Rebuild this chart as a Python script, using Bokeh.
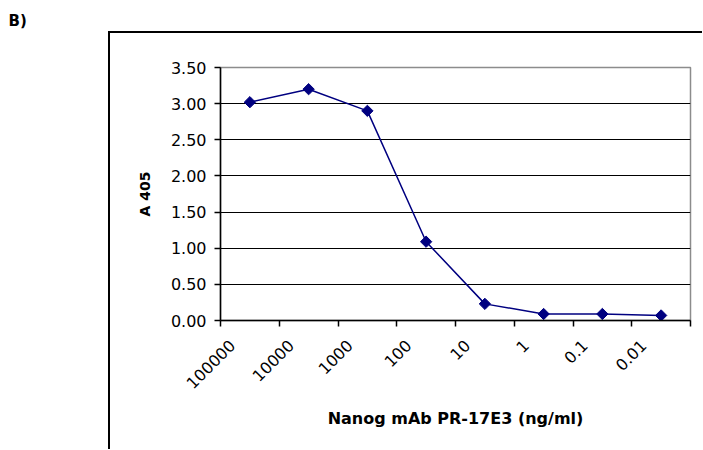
import math
from bokeh.plotting import figure
from bokeh.models import Range1d, FixedTicker, ColumnDataSource, Title
from bokeh.embed import file_html
from bokeh.resources import INLINE

# ---- data ----
concentrations = ["100000", "10000", "1000", "100", "10", "1", "0.1", "0.01"]
a405 = [3.02, 3.20, 2.90, 1.09, 0.23, 0.09, 0.09, 0.07]
y_ticks = [0.0, 0.5, 1.0, 1.5, 2.0, 2.5, 3.0, 3.5]
y_tick_labels = ["0.00", "0.50", "1.00", "1.50", "2.00", "2.50", "3.00", "3.50"]
panel_label = "B)"
x_title = "Nanog mAb PR-17E3 (ng/ml)"
y_title = "A 405"

n = len(concentrations)
x_pos = [i + 0.5 for i in range(n)]  # category centres
source = ColumnDataSource(dict(x=x_pos, y=a405, conc=concentrations))

FONT = "DejaVu Sans"
NAVY = "#000080"

# layout (pixels on the canvas)
W, H = 702, 449
F_LEFT, F_RIGHT, F_TOP, F_BOTTOM = 220, 690, 67, 320
BOX_LEFT, BOX_TOP = 108, 31  # outer chart frame (runs past the page edges)

p = figure(width=W, height=H, output_backend="svg", toolbar_location=None,
           title=None,
           x_range=Range1d(0, n), y_range=Range1d(y_ticks[0], y_ticks[-1]),
           min_border_left=F_LEFT, min_border_right=W - F_RIGHT,
           min_border_top=F_TOP, min_border_bottom=H - F_BOTTOM,
           background_fill_color="white", border_fill_color=None,
           outline_line_color="#8c8c8c", outline_line_width=1.5)

# outer chart frame: only its top and left edges fall inside the page
p.styles = {
    "background": (
        f"linear-gradient(#000, #000) {BOX_LEFT}px {BOX_TOP}px / 2px {H}px no-repeat, "
        f"linear-gradient(#000, #000) {BOX_LEFT}px {BOX_TOP}px / {W}px 2px no-repeat, "
        "#ffffff"
    )
}

# spacer panel between the plot area and the panel label
p.add_layout(Title(text=" ", text_font_size="10px", standoff=20,
                   text_color="white"), "above")
# panel label "B)", pulled to the page's left edge
p.add_layout(Title(text=panel_label, align="left", offset=8 - F_LEFT,
                   vertical_align="bottom", standoff=10,
                   text_font=FONT, text_font_size="15px", text_font_style="bold",
                   text_color="black"), "above")

# x axis: labels at category centres, tick marks at category boundaries
label_shift = 0.3  # rotated labels end a little left of the category centre
label_pos = [c - label_shift for c in x_pos]
xa = p.xaxis[0]
xa.ticker = FixedTicker(ticks=label_pos, minor_ticks=list(range(n + 1)))
xa.major_label_overrides = {x: c for x, c in zip(label_pos, concentrations)}
xa.major_tick_in = 0
xa.major_tick_out = 0
xa.minor_tick_in = 0
xa.minor_tick_out = 6
xa.minor_tick_line_color = "black"
xa.minor_tick_line_width = 1.5
xa.axis_line_color = "black"
xa.axis_line_width = 1.5
xa.major_label_orientation = math.pi / 4
xa.major_label_standoff = 16
xa.major_label_text_font = FONT
xa.major_label_text_font_size = "16px"
xa.major_label_text_color = "black"
xa.axis_label = x_title
xa.axis_label_text_font = FONT
xa.axis_label_text_font_size = "16px"
xa.axis_label_text_font_style = "bold"
xa.axis_label_text_color = "black"
xa.axis_label_standoff = 12

# y axis
ya = p.yaxis[0]
ya.ticker = FixedTicker(ticks=y_ticks, minor_ticks=[])
ya.major_label_overrides = {t: s for t, s in zip(y_ticks, y_tick_labels)}
ya.major_tick_in = 0
ya.major_tick_out = 6
ya.major_tick_line_color = "black"
ya.major_tick_line_width = 1.5
ya.minor_tick_out = 0
ya.minor_tick_in = 0
ya.axis_line_color = "black"
ya.axis_line_width = 1.5
ya.major_label_standoff = 8
ya.major_label_text_font = FONT
ya.major_label_text_font_size = "16px"
ya.major_label_text_color = "black"
ya.axis_label = y_title
ya.axis_label_text_font = FONT
ya.axis_label_text_font_size = "14px"
ya.axis_label_text_font_style = "bold"
ya.axis_label_text_color = "black"
ya.axis_label_standoff = 15

# grid
p.xgrid.visible = False
p.ygrid.ticker = FixedTicker(ticks=y_ticks[1:-1], minor_ticks=[])
p.ygrid.grid_line_color = "black"
p.ygrid.grid_line_width = 1.2

# series
p.line("x", "y", source=source, line_color=NAVY, line_width=1.5)
p.scatter("x", "y", source=source, marker="square", angle=math.pi / 4, size=8,
          fill_color=NAVY, line_color=NAVY)

open("out.html", "w").write(file_html(p, INLINE))
